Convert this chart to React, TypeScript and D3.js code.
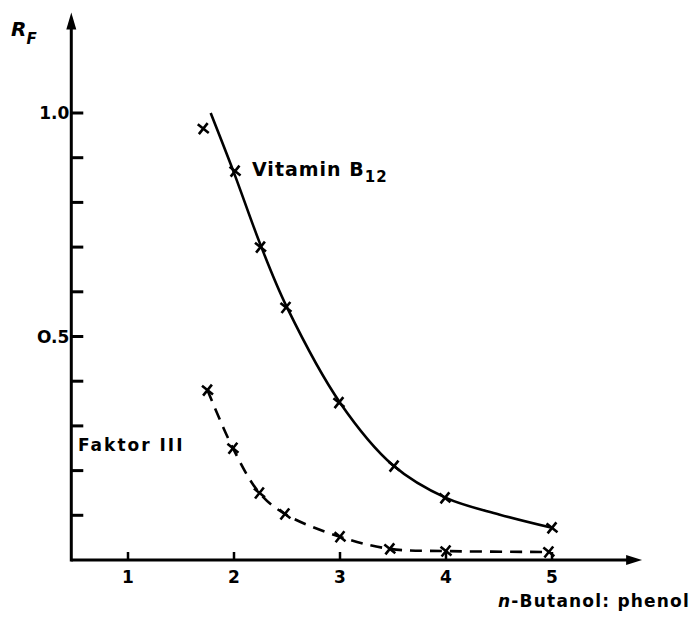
import React from 'react';
import * as d3 from 'd3';

// Vitamin B12 (solid line)
const b12Marks: [number, number][] = [
  [1.71, 0.965], [2.01, 0.87], [2.25, 0.70], [2.49, 0.565],
  [2.99, 0.352], [3.51, 0.21], [3.99, 0.139], [5.0, 0.072],
];
const b12Curve: [number, number][] = [
  [1.78, 1.0], [2.0, 0.866], [2.25, 0.705], [2.5, 0.565],
  [3.0, 0.352], [3.5, 0.212], [4.0, 0.139], [4.5, 0.102], [5.0, 0.072],
];
// Faktor III (dashed line)
const faktorMarks: [number, number][] = [
  [1.75, 0.38], [1.99, 0.25], [2.24, 0.15], [2.48, 0.103],
  [3.0, 0.052], [3.47, 0.025], [4.0, 0.02], [4.97, 0.018],
];
const xTicks = [1, 2, 3, 4, 5];
const yTicks = [0.1, 0.2, 0.3, 0.4, 0.5, 0.6, 0.7, 0.8, 0.9, 1.0];
const yLabels = [0.5, 1.0];

const W = 694, H = 617;
const font = '"DejaVu Sans", sans-serif';

export default function App() {
  const x = d3.scaleLinear().domain([1, 5]).range([128, 552]);
  const y = d3.scaleLinear().domain([0, 1]).range([560, 113]);
  const x0 = x(0.465), x1 = x(5.85);
  const y0 = y(0), yTop = y(1.225);

  const line = d3.line<[number, number]>()
    .x(d => x(d[0])).y(d => y(d[1]))
    .curve(d3.curveCatmullRom.alpha(0.5));

  const cross = (d: [number, number], i: number) => {
    const cx = x(d[0]), cy = y(d[1]), r = 5.5;
    return (
      <path key={i} d={`M${cx - r},${cy - r * 0.8}L${cx + r},${cy + r * 0.8}M${cx - r * 0.8},${cy + r}L${cx + r * 0.8},${cy - r}`}
        stroke="#000" strokeWidth={2.6} fill="none" />
    );
  };

  return (
    <svg width={W} height={H} style={{ position: 'absolute', left: 0, top: 0, background: '#fff' }}>
      <rect width={W} height={H} fill="#fff" />
      {/* axes */}
      <line x1={x0} y1={y0} x2={x1 - 8} y2={y0} stroke="#000" strokeWidth={3} />
      <path d={`M${x1},${y0}L${x1 - 16},${y0 - 5}L${x1 - 16},${y0 + 5}Z`} fill="#000" />
      <line x1={x0} y1={y0 + 1.5} x2={x0} y2={yTop + 8} stroke="#000" strokeWidth={3} />
      <path d={`M${x0},${yTop}L${x0 - 5},${yTop + 17}L${x0 + 5},${yTop + 17}Z`} fill="#000" />

      {yTicks.map(t => (
        <line key={t} x1={x0} x2={x0 + 12} y1={y(t)} y2={y(t)} stroke="#000" strokeWidth={3} />
      ))}
      {yLabels.map(t => (
        <text key={t} x={x0 - 2} y={y(t)} dy="0.36em" textAnchor="end" fontFamily={font}
          fontWeight="bold" fontSize={17}>{t === 1 ? '1.0' : 'O.5'}</text>
      ))}
      {xTicks.map(t => (
        <g key={t}>
          <line x1={x(t)} x2={x(t)} y1={y0} y2={y0 - 8} stroke="#000" strokeWidth={2.5} />
          <text x={x(t)} y={y0 + 23} textAnchor="middle" fontFamily={font} fontWeight="bold" fontSize={17}>{t}</text>
        </g>
      ))}

      {/* curves */}
      <path d={line(b12Curve) || ''} fill="none" stroke="#000" strokeWidth={2.6} />
      <path d={line(faktorMarks) || ''} fill="none" stroke="#000" strokeWidth={2.6} strokeDasharray="12 8" />
      {b12Marks.map(cross)}
      {faktorMarks.map(cross)}

      {/* labels */}
      <text x={252} y={176} fontFamily={font} fontWeight="bold" fontSize={19} letterSpacing={1}>
        Vitamin B<tspan fontSize={15} dy={6}>12</tspan>
      </text>
      <text x={78} y={451} fontFamily={font} fontWeight="bold" fontSize={17} letterSpacing={2}>Faktor III</text>
      <text x={11} y={36} fontFamily={font} fontWeight="bold" fontStyle="italic" fontSize={20}>
        R<tspan fontSize={15} dy={8}>F</tspan>
      </text>
      <text x={690} y={607} textAnchor="end" fontFamily={font} fontWeight="bold" fontSize={17} letterSpacing={1.2}>
        <tspan fontStyle="italic">n</tspan>-Butanol: phenol
      </text>
    </svg>
  );
}
